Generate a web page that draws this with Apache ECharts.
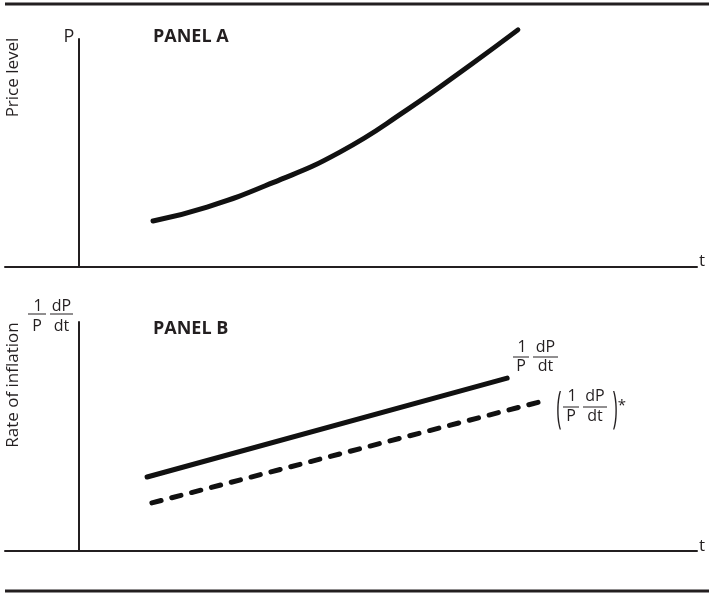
<!DOCTYPE html>
<html>
<head>
<meta charset="utf-8">
<script src="https://cdn.jsdelivr.net/npm/echarts@6/dist/echarts.min.js"></script>
<style>
html,body{margin:0;padding:0;background:#fff;}
#c{width:709px;height:594px;}
</style>
</head>
<body>
<div id="c"></div>
<script>
// ---- data (time in arbitrary units, values on a 0-100 scale) ----
const timeA = [2.0, 3.46, 5.24, 7.05, 8.86, 10.65, 11.86];
const priceLevel = [20.2, 26.3, 37.0, 50.4, 68.9, 89.5, 104.0];
const timeB = [1.84, 11.57];
const inflation = [32.3, 75.5];
const timeBExp = [1.97, 12.54];
const expectedInflation = [21.0, 65.5];
const axisLabelsText = { yA: 'Price level', yB: 'Rate of inflation', x: 't', pA: 'P' };
const panelTitles = ['PANEL A', 'PANEL B'];

const ink = '#231f20';
const FONT = '"Open Sans", "Liberation Sans", sans-serif';

function zip(a, b) { return a.map((v, i) => [v, b[i]]); }

function txt(x, y, s, size, opt) {
  opt = opt || {};
  return {
    type: 'text', x: x, y: y, rotation: opt.rotation || 0,
    scaleX: opt.scaleX || 1, scaleY: opt.scaleY || 1,
    silent: true,
    style: {
      text: s, fill: ink,
      font: (opt.bold ? 'bold ' : '') + size + 'px ' + FONT,
      fontSize: size, fontFamily: FONT, fontWeight: opt.bold ? 'bold' : 'normal',
      textAlign: opt.align || 'center', align: opt.align || 'center',
      textVerticalAlign: 'middle', verticalAlign: 'middle'
    }
  };
}
function hline(x1, x2, y, w) {
  return { type: 'line', silent: true, shape: { x1: x1, y1: y, x2: x2, y2: y },
    style: { stroke: ink, lineWidth: w } };
}
// fraction pair "1/P  dP/dt"
function fracPair(lineY, l1, l2, numY, denY) {
  const c1 = (l1[0] + l1[1]) / 2, c2 = (l2[0] + l2[1]) / 2;
  return [
    hline(l1[0], l1[1], lineY, 1),
    hline(l2[0], l2[1], lineY, 1),
    txt(c1 + 1, numY, '1', 16),
    txt(c1, denY, 'P', 16),
    txt(c2, numY, 'dP', 16),
    txt(c2, denY, 'dt', 16)
  ];
}

const graphics = [
  hline(5, 709, 4, 3),
  hline(5, 709, 591, 3),
  txt(13, 77.5, axisLabelsText.yA, 17, { rotation: Math.PI / 2 }),
  txt(13, 385, axisLabelsText.yB, 17, { rotation: Math.PI / 2 }),
  txt(69, 36.5, axisLabelsText.pA, 18),
  txt(153, 36.5, panelTitles[0], 18, { bold: true, align: 'left' }),
  txt(153, 328.5, panelTitles[1], 18, { bold: true, align: 'left' }),
  txt(699, 261, axisLabelsText.x, 17, { align: 'left' }),
  txt(699, 546, axisLabelsText.x, 17, { align: 'left' }),
  txt(559, 409, '(', 17, { scaleY: 2.6 }),
  txt(615, 409, ')', 17, { scaleY: 2.6 }),
  txt(622, 406, '*', 15)
].concat(
  fracPair(314, [28, 46], [50, 73], 306, 326),
  fracPair(357, [513, 529], [533, 558], 347.5, 366),
  fracPair(407, [563, 579], [583, 607], 396.5, 416)
);

function xAx(gi) {
  return {
    type: 'value', gridIndex: gi, min: -2, max: 16.7,
    axisLine: { show: true, onZero: true, lineStyle: { color: ink, width: 2 } },
    axisTick: { show: false }, axisLabel: { show: false }, splitLine: { show: false }
  };
}
function yAx(gi) {
  return {
    type: 'value', gridIndex: gi, min: 0, max: 100,
    axisLine: { show: true, onZero: true, lineStyle: { color: ink, width: 2 } },
    axisTick: { show: false }, axisLabel: { show: false }, splitLine: { show: false }
  };
}

const chart = echarts.init(document.getElementById('c'), null, { renderer: 'canvas' });
chart.setOption({
  animation: false,
  backgroundColor: '#fff',
  grid: [
    { left: 5, right: 12, top: 39, height: 228 },
    { left: 5, right: 12, top: 322, height: 229 }
  ],
  xAxis: [xAx(0), xAx(1)],
  yAxis: [yAx(0), yAx(1)],
  series: [
    {
      type: 'line', xAxisIndex: 0, yAxisIndex: 0, data: zip(timeA, priceLevel),
      smooth: 0.5, showSymbol: false, clip: false,
      lineStyle: { color: '#111', width: 5, cap: 'round' }
    },
    {
      type: 'line', xAxisIndex: 1, yAxisIndex: 1, data: zip(timeB, inflation),
      showSymbol: false, clip: false,
      lineStyle: { color: '#111', width: 5, cap: 'round' }
    },
    {
      type: 'line', xAxisIndex: 1, yAxisIndex: 1, data: zip(timeBExp, expectedInflation),
      showSymbol: false, clip: false,
      lineStyle: { color: '#111', width: 5, cap: 'round', type: [9.5, 11] }
    }
  ],
  graphic: graphics
});
</script>
</body>
</html>
